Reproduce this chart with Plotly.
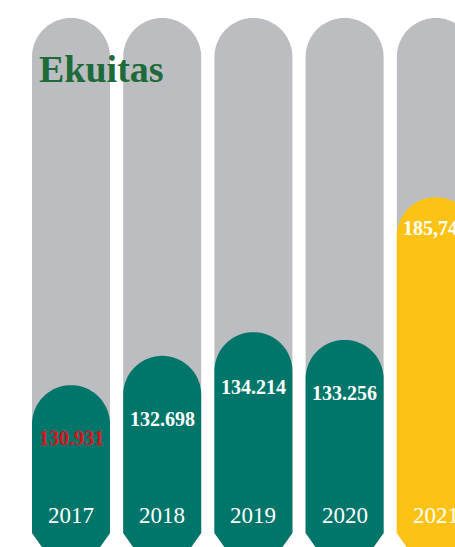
import numpy as np
import plotly.graph_objects as go

# ---- data ----
years = ["2017", "2018", "2019", "2020", "2021"]
value_labels = ["130.931", "132.698", "134.214", "133.256", "185,745"]
# displayed bar heights (share of the full grey pill, 0-100)
bar_heights = [28.7, 34.4, 39.0, 37.5, 65.2]
full_height = [100, 100, 100, 100, 100]

# ---- style ----
W, H = 455, 547
PX_X = 91.2          # px per category step
PX_Y = 5.15          # px per height unit
FIRST_CENTER_PX = 71
BASE_PX = 533        # px (from top) of the height zero line
R_PX = 39            # half width of a pill, px
CHEVRON_PX = 55      # depth of the bottom point, px
GREY = "#BCBDC1"
GREEN = "#00756A"
YELLOW = "#FCC314"
bar_colors = [GREEN, GREEN, GREEN, GREEN, YELLOW]
label_colors = ["#E3101B", "white", "white", "white", "white"]
label_drop_px = [53, 63, 55, 53, 31]
SERIF = "Liberation Serif, Times New Roman, serif"

rx = R_PX / PX_X
ry = R_PX / PX_Y
depth = CHEVRON_PX / PX_Y


def pill(i, top):
    t = np.linspace(0, np.pi, 60)
    xs = [i + rx, i + rx] + list(i + rx * np.cos(t)) + [i - rx, i - rx, i, i + rx]
    ys = [0, top - ry] + list(top - ry + ry * np.sin(t)) + [top - ry, 0, -depth, 0]
    return xs, ys


fig = go.Figure()
for i, h in enumerate(full_height):
    xs, ys = pill(i, h)
    fig.add_trace(go.Scatter(x=xs, y=ys, fill="toself", fillcolor=GREY, mode="none",
                             hoverinfo="skip", showlegend=False))
for i, h in enumerate(bar_heights):
    xs, ys = pill(i, h)
    fig.add_trace(go.Scatter(x=xs, y=ys, fill="toself", fillcolor=bar_colors[i], mode="none",
                             hoverinfo="skip", showlegend=False))

annotations = []
for i, (h, lab) in enumerate(zip(bar_heights, value_labels)):
    annotations.append(dict(x=i, y=h - label_drop_px[i] / PX_Y, xref="x", yref="y",
                            text=f"<b>{lab}</b>", showarrow=False,
                            font=dict(family=SERIF, size=20, color=label_colors[i]),
                            xanchor="center", yanchor="middle"))
for i, yr in enumerate(years):
    annotations.append(dict(x=i, y=(BASE_PX - 515) / PX_Y, xref="x", yref="y",
                            text=yr, showarrow=False,
                            font=dict(family=SERIF, size=23, color="white"),
                            xanchor="center", yanchor="middle"))
annotations.append(dict(x=37 / W, y=1 - 69 / H, xref="paper", yref="paper",
                        text="<b>Ekuitas</b>", showarrow=False,
                        font=dict(family=SERIF, size=38, color="#1D6B3A"),
                        xanchor="left", yanchor="middle"))

x0 = -FIRST_CENTER_PX / PX_X
fig.update_layout(
    width=W, height=H,
    margin=dict(l=0, r=0, t=0, b=0),
    paper_bgcolor="white", plot_bgcolor="white",
    xaxis=dict(range=[x0, x0 + W / PX_X], visible=False, fixedrange=True),
    yaxis=dict(range=[-(H - BASE_PX) / PX_Y, BASE_PX / PX_Y], visible=False, fixedrange=True),
    annotations=annotations,
    showlegend=False,
)
fig.write_html(
    "out.html",
    config={"displayModeBar": False},
    post_script="document.body.style.margin='0';document.body.style.overflow='hidden';",
)
